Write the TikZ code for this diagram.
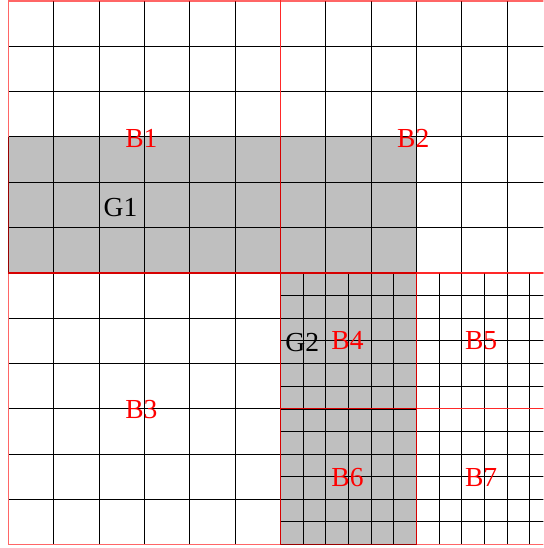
\documentclass[tikz,border=0pt]{standalone}
\usepackage{fontspec}
\setmainfont{Liberation Serif}
\usepackage{tikz}

\begin{document}
\begin{tikzpicture}[
    cellgrid/.style={black, line width=0.6pt},
    groupedge/.style={black, line width=1.1pt},
    blockline/.style={draw=red, draw opacity=0.6, line width=1pt},
    blocklabel/.style={text=red, font=\LARGE},
    grouplabel/.style={text=black, font=\LARGE}
]

    % Frame
    \useasboundingbox (-0.19,-0.075) rectangle (11.8,12.02);
    \clip (-0.19,-0.075) rectangle (11.8,12.02);

    % Shaded groups
    \fill[lightgray] (0,6) rectangle (9,9);
    \fill[lightgray] (6,0) rectangle (9,6);

    % Inner cells of the coarse blocks
    \draw[cellgrid, step=1] (0.01,6.01) grid (5.99,11.99);
    \draw[cellgrid, step=1] (6.01,6.01) grid (11.99,11.99);
    \draw[cellgrid, step=1] (0.01,0.01) grid (5.99,5.99);

    % Inner cells of the fine blocks
    \draw[cellgrid, step=0.5] (6.01,3.01) grid (8.99,5.99);
    \draw[cellgrid, step=0.5] (9.01,3.01) grid (11.99,5.99);
    \draw[cellgrid, step=0.5] (6.01,0.01) grid (8.99,2.99);
    \draw[cellgrid, step=0.5] (9.01,0.01) grid (11.99,2.99);

    % Group cells and outlines
    \draw[cellgrid, step=1] (0,6) grid (9,9);
    \draw[cellgrid, step=0.5] (6,0) grid (9,6);

    % Block edges inside the groups
    \draw[groupedge] (0,9) -- (0,6) -- (9,6);
    \draw[groupedge] (6,6) -- (6,9);
    \draw[groupedge] (6,6) -- (6,0) -- (9,0) -- (9,6);
    \draw[groupedge] (6,3) -- (9,3);

    % Block outlines
    \draw[blockline] (0,6) rectangle (6,12);
    \draw[blockline] (6,6) rectangle (12,12);
    \draw[blockline] (0,0) rectangle (6,6);
    \draw[blockline] (6,3) rectangle (9,6);
    \draw[blockline] (9,3) rectangle (12,6);
    \draw[blockline] (6,0) rectangle (9,3);
    \draw[blockline] (9,0) rectangle (12,3);

    % Labels
    \node[blocklabel] (b1) at (2.93,8.96) {B1};
    \node[blocklabel] (b2) at (8.93,8.96) {B2};
    \node[grouplabel] (g1) at (2.47,7.45) {G1};
    \node[blocklabel] (b3) at (2.93,2.98) {B3};
    \node[grouplabel] (g2) at (6.48,4.47) {G2};
    \node[blocklabel] (b4) at (7.48,4.5) {B4};
    \node[blocklabel] (b5) at (10.43,4.5) {B5};
    \node[blocklabel] (b6) at (7.48,1.48) {B6};
    \node[blocklabel] (b7) at (10.43,1.48) {B7};

\end{tikzpicture}
\end{document}
